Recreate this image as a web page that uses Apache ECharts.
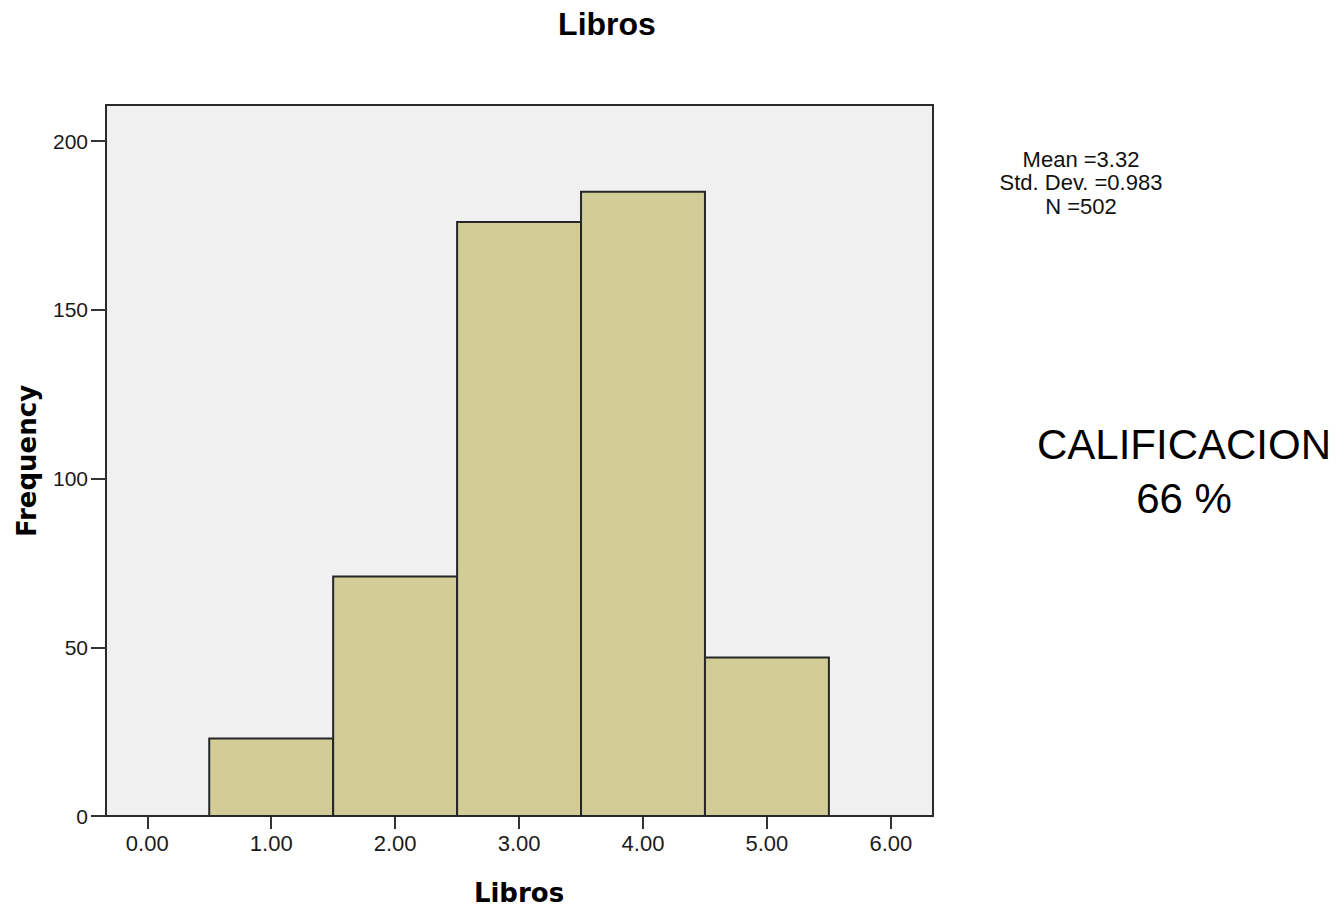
<!DOCTYPE html>
<html>
<head>
<meta charset="utf-8">
<script src="https://cdn.jsdelivr.net/npm/echarts@6/dist/echarts.min.js"></script>
<style>
html,body{margin:0;padding:0;background:#fff;}
#chart{width:1344px;height:910px;}
</style>
</head>
<body>
<div id="chart"></div>
<script>
// ---- data ----
const binStarts = [0.5, 1.5, 2.5, 3.5, 4.5];
const binEnds   = [1.5, 2.5, 3.5, 4.5, 5.5];
const counts    = [23, 71, 176, 185, 47];
const xTicks    = [0, 1, 2, 3, 4, 5, 6];
const yTicks    = [0, 50, 100, 150, 200];
const chartTitle = 'Libros';
const xTitle = 'Libros';
const yTitle = 'Frequency';
const statLines = ['Mean =3.32', 'Std. Dev. =0.983', 'N =502'];
const noteLines = ['CALIFICACION', '66 %'];

const histData = binStarts.map((s, i) => [s, binEnds[i], counts[i]]);

const chart = echarts.init(document.getElementById('chart'), null, {renderer: 'svg'});
const sans = '"Liberation Sans", Arial, sans-serif';
const dejaBold = '"DejaVu Sans", sans-serif';

const option = {
  backgroundColor: '#ffffff',
  animation: false,
  grid: {
    left: 106, right: 411, top: 105, bottom: 94,
    show: true, backgroundColor: '#f0f0f0', borderColor: '#2a2a2a', borderWidth: 2
  },
  xAxis: {
    type: 'value', min: -0.333, max: 6.34,
    axisLine: {show: false, onZero: false},
    splitLine: {show: false},
    axisTick: {show: true, customValues: xTicks, length: 13, lineStyle: {color: '#333', width: 2}},
    axisLabel: {customValues: xTicks, formatter: v => v.toFixed(2), margin: 16,
      color: '#1a1a1a', fontFamily: sans, fontSize: 22}
  },
  yAxis: {
    type: 'value', min: 0, max: 210.7,
    axisLine: {show: false, onZero: false},
    splitLine: {show: false},
    axisTick: {show: true, customValues: yTicks, length: 15, lineStyle: {color: '#333', width: 2}},
    axisLabel: {customValues: yTicks, margin: 18, color: '#1a1a1a', fontFamily: sans, fontSize: 21}
  },
  series: [{
    type: 'custom',
    data: histData,
    encode: {x: [0, 1], y: 2},
    renderItem: function (params, api) {
      const p0 = api.coord([api.value(0), 0]);
      const p1 = api.coord([api.value(1), api.value(2)]);
      return {
        type: 'rect',
        shape: {x: p0[0], y: p1[1], width: p1[0] - p0[0], height: p0[1] - p1[1]},
        style: {fill: '#d2cd97', stroke: '#262626', lineWidth: 2}
      };
    }
  }],
  graphic: [
    {type: 'text', x: 607, y: 24, silent: true,
      style: {text: chartTitle, fontFamily: sans, fontWeight: 'bold', fontSize: 32, fill: '#000',
        textAlign: 'center', textVerticalAlign: 'middle'}},
    {type: 'text', x: 519, y: 893, silent: true,
      style: {text: xTitle, fontFamily: dejaBold, fontWeight: 'bold', fontSize: 26, fill: '#000',
        textAlign: 'center', textVerticalAlign: 'middle'}},
    {type: 'text', x: 27, y: 461, rotation: Math.PI / 2, silent: true,
      style: {text: yTitle, fontFamily: dejaBold, fontWeight: 'bold', fontSize: 26, fill: '#000',
        textAlign: 'center', textVerticalAlign: 'middle'}},
    ...statLines.map((t, i) => ({type: 'text', x: 1081, y: 159 + i * 23.5, silent: true,
      style: {text: t, fontFamily: sans, fontSize: 22, fill: '#111',
        textAlign: 'center', textVerticalAlign: 'middle'}})),
    ...noteLines.map((t, i) => ({type: 'text', x: 1184, y: 444 + i * 54, silent: true,
      style: {text: t, fontFamily: sans, fontSize: 42, fill: '#000',
        textAlign: 'center', textVerticalAlign: 'middle'}}))
  ]
};
chart.setOption(option);
</script>
</body>
</html>
